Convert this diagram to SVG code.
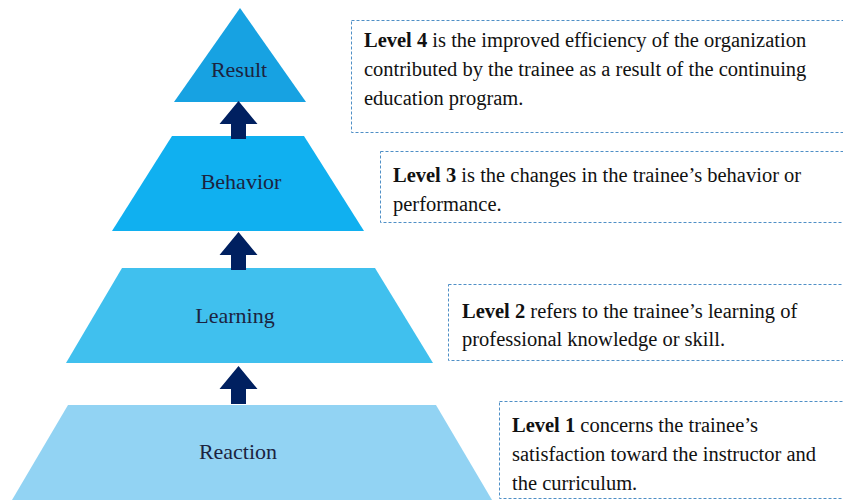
<svg xmlns="http://www.w3.org/2000/svg" xmlns:xlink="http://www.w3.org/1999/xlink" width="843" height="502" viewBox="0 0 843 502">
  <style>
    .lvl { font-family: "Liberation Serif", "Times New Roman", serif; font-size: 22px; fill: #1c2340; text-anchor: middle; }
    .note { font-family: "Liberation Serif", "Times New Roman", serif; font-size: 20.5px; fill: #111111; }
    .note .b { font-weight: bold; }
    .box { fill: #ffffff; stroke: #4f8fc6; stroke-width: 1; stroke-dasharray: 3 2; }
    .arrow { fill: #002060; }
  </style>
  <defs>
    <!-- upward block arrow, tip at origin -->
    <path id="upArrow" d="M0 0 L19 23 L7.5 23 L7.5 38 L-7.5 38 L-7.5 23 L-19 23 Z"/>
  </defs>

  <rect width="843" height="502" fill="#ffffff"/>

  <!-- pyramid levels -->
  <g id="result">
    <polygon points="240,8 306,102 174,102" fill="#17a2e2"/>
    <text class="lvl" x="239" y="77">Result</text>
  </g>
  <g id="behavior">
    <polygon points="172,136 304,136 364,231 112,231" fill="#10b0f0"/>
    <text class="lvl" x="241" y="189">Behavior</text>
  </g>
  <g id="learning">
    <polygon points="122,268 375,268 433,363 66,363" fill="#40c0ee"/>
    <text class="lvl" x="235" y="323">Learning</text>
  </g>
  <g id="reaction">
    <polygon points="68,405 436,405 492,500 12,500" fill="#92d3f3"/>
    <text class="lvl" x="238" y="459">Reaction</text>
  </g>

  <!-- arrows between levels -->
  <g id="connectors" class="arrow">
    <use xlink:href="#upArrow" href="#upArrow" x="238.5" y="101"/>
    <use xlink:href="#upArrow" href="#upArrow" x="238.5" y="232"/>
    <use xlink:href="#upArrow" href="#upArrow" x="238.5" y="366"/>
  </g>

  <!-- explanatory notes -->
  <g id="note4">
    <rect class="box" x="351.5" y="20.5" width="500" height="112"/>
    <text class="note" x="364" y="47"><tspan class="b">Level 4</tspan> is the improved efficiency of the organization</text>
    <text class="note" x="364" y="76">contributed by the trainee as a result of the continuing</text>
    <text class="note" x="364" y="105">education program.</text>
  </g>
  <g id="note3">
    <rect class="box" x="380.5" y="151.5" width="470" height="71"/>
    <text class="note" x="393" y="182"><tspan class="b">Level 3</tspan> is the changes in the trainee’s behavior or</text>
    <text class="note" x="393" y="211">performance.</text>
  </g>
  <g id="note2">
    <rect class="box" x="448.5" y="284.5" width="400" height="76"/>
    <text class="note" x="462" y="318"><tspan class="b">Level 2</tspan> refers to the trainee’s learning of</text>
    <text class="note" x="462" y="346">professional knowledge or skill.</text>
  </g>
  <g id="note1">
    <rect class="box" x="499.5" y="401.5" width="350" height="97"/>
    <text class="note" x="512" y="432"><tspan class="b">Level 1</tspan> concerns the trainee’s</text>
    <text class="note" x="512" y="461">satisfaction toward the instructor and</text>
    <text class="note" x="512" y="490">the curriculum.</text>
  </g>
</svg>
